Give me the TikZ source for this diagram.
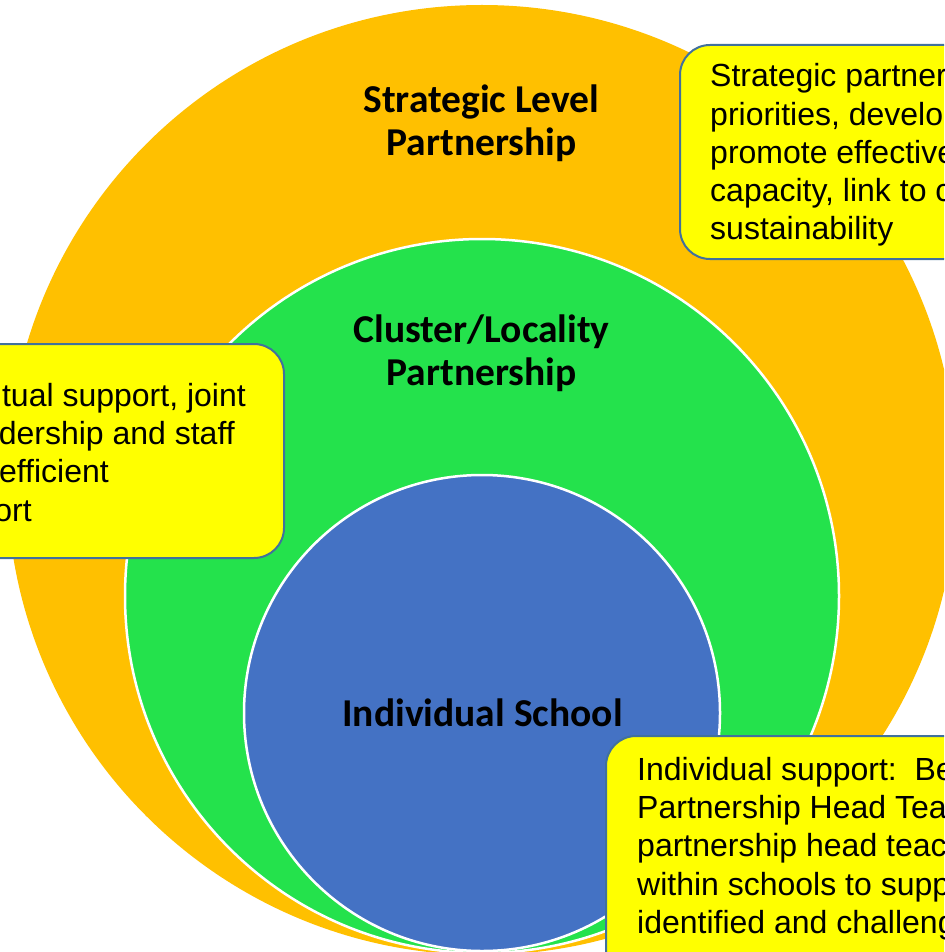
\documentclass[tikz,border=0pt]{standalone}
\usepackage{fontspec}
\setmainfont{Liberation Sans}
\newfontfamily\lblfont{Carlito}
\definecolor{orng}{HTML}{FFC000}
\definecolor{grn}{HTML}{24E24C}
\definecolor{blu}{HTML}{4472C4}
\definecolor{yel}{HTML}{FFFF00}
\definecolor{bord}{HTML}{41719C}
\tikzset{
  ring/.style={circle, inner sep=0pt, draw=white, line width=2.5pt},
  infobox/.style={rectangle, rounded corners=30pt, fill=yel, draw=bord, line width=2pt, inner sep=0pt},
  bodytext/.style={inner sep=0pt, font=\fontsize{32}{38.4}\selectfont, text=black},
  lbl/.style={inner sep=0pt, anchor=base, font=\lblfont\bfseries\fontsize{39.5}{40}\selectfont, text=black}
}
\begin{document}
\begin{tikzpicture}[x=1pt,y=-1pt]
\useasboundingbox (0,0) rectangle (944,952);
\clip (0,0) rectangle (944,952);
\fill[white] (0,0) rectangle (944,952);
% circles
\node[circle, inner sep=0pt, fill=orng, minimum size=950pt] (outer) at (482,480) {};
\node[ring, fill=grn, minimum size=714pt] (middle) at (482,596) {};
\node[ring, fill=blu, minimum size=476pt] (inner) at (482,713) {};
% labels
\node[lbl] (s1) at (481.5,113) {Strategic Level};
\node[lbl] (s2) at (481.5,156) {Partnership};
\node[lbl] (c1) at (481.5,342) {Cluster/Locality};
\node[lbl] (c2) at (481.5,385) {Partnership};
\node[lbl] (i1) at (482.5,726) {Individual School};
% box 1 (top right)
\node[infobox, minimum width=320pt, minimum height=214pt] (box1) at (840,152) {};
\node[bodytext, anchor=base west] (b1l1) at (710,87) {Strategic partner};
\node[bodytext, anchor=base west] (b1l2) at (710,125.2) {priorities, develop};
\node[bodytext, anchor=base west] (b1l3) at (710,163.4) {promote effective};
\node[bodytext, anchor=base west] (b1l4) at (710,201.6) {capacity, link to c};
\node[bodytext, anchor=base west] (b1l5) at (710,239.8) {sustainability};
% box 2 (left)
\node[infobox, minimum width=344pt, minimum height=214pt] (box2) at (112,451) {};
\node[bodytext, anchor=base east] (b2l1) at (246,406) {utual support, joint};
\node[bodytext, anchor=base east] (b2l2) at (235,444.4) {dership and staff};
\node[bodytext, anchor=base east] (b2l3) at (109,482.8) {efficient};
\node[bodytext, anchor=base east] (b2l4) at (32,521.2) {ort};
% box 3 (bottom right)
\node[infobox, minimum width=394pt, minimum height=264pt] (box3) at (803,868) {};
\node[bodytext, anchor=base west] (b3l1) at (637,780) {Individual support:\ \ Be};
\node[bodytext, anchor=base west] (b3l2) at (637,818.4) {Partnership Head Tea};
\node[bodytext, anchor=base west] (b3l3) at (637,856.8) {partnership head teac};
\node[bodytext, anchor=base west] (b3l4) at (637,895.2) {within schools to supp};
\node[bodytext, anchor=base west] (b3l5) at (637,933.6) {identified and challeng};
\end{tikzpicture}
\end{document}
